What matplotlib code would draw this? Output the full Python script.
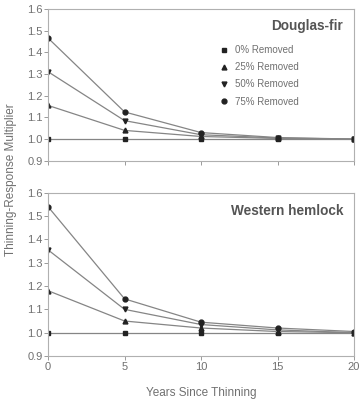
import numpy as np
import matplotlib
matplotlib.use("Agg")
import matplotlib.pyplot as plt

plt.rcParams['font.family'] = ['Liberation Sans', 'DejaVu Sans']

years = [0, 5, 10, 15, 20]
labels = ['0% Removed', '25% Removed', '50% Removed', '75% Removed']
markers = ['s', '^', 'v', 'o']

# Douglas-fir
df_vals = [
    [1.0, 1.0, 1.0, 1.0, 1.0],
    [1.155, 1.04, 1.012, 1.003, 1.0],
    [1.31, 1.085, 1.02, 1.005, 1.0],
    [1.465, 1.125, 1.03, 1.007, 1.0],
]
# Western hemlock
wh_vals = [
    [1.0, 1.0, 1.0, 1.0, 1.0],
    [1.18, 1.05, 1.02, 1.005, 1.0],
    [1.355, 1.10, 1.035, 1.012, 1.0],
    [1.54, 1.145, 1.045, 1.02, 1.005],
]

grey = '#8a8a8a'
fig = plt.figure(figsize=(3.59, 4.0), dpi=100)
ax1 = fig.add_axes([0.134, 0.598, 0.852, 0.38])
ax2 = fig.add_axes([0.134, 0.11, 0.852, 0.408])

for ax, vals, title in [(ax1, df_vals, 'Douglas-fir'), (ax2, wh_vals, 'Western hemlock')]:
    for v, m, lab in zip(vals, markers, labels):
        ax.plot(years, v, color='#858585', lw=0.9, marker=m, ms=3.5,
                mfc='#222222', mec='#222222', label=lab)
    ax.set_xlim(0, 20)
    ax.set_ylim(0.9, 1.6)
    ax.set_xticks(years)
    ax.set_yticks(np.arange(0.9, 1.61, 0.1))
    ax.set_yticklabels(['%.1f' % t for t in np.arange(0.9, 1.61, 0.1)])
    for s in ax.spines.values():
        s.set_color('#b0b0b0')
        s.set_linewidth(0.8)
    ax.tick_params(colors=grey, labelcolor='#707070', labelsize=8,
                   length=3, width=0.6, pad=1)
    ax.text(0.965, 0.93, title, transform=ax.transAxes, ha='right', va='top',
            fontsize=9.8, fontweight='bold', color='#555555')

ax1.tick_params(axis='x', labelbottom=False)
leg = ax1.legend(loc='upper left', bbox_to_anchor=(0.53, 0.82), frameon=False,
                 fontsize=7, handlelength=1.0, handletextpad=0.7,
                 labelspacing=0.75, labelcolor='#707070')
for h in leg.legend_handles:
    h.set_linestyle('None')

fig.text(0.03, 0.55, 'Thinning-Response Multiplier', rotation=90,
         ha='center', va='center', fontsize=8.5, color='#707070')
fig.text(0.56, 0.018, 'Years Since Thinning', ha='center', va='center',
         fontsize=8.5, color='#707070')

fig.savefig('out.png', dpi=100)
